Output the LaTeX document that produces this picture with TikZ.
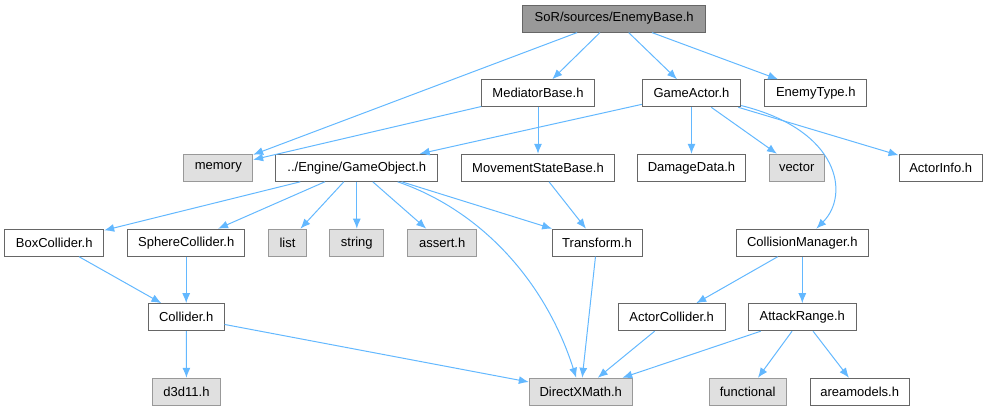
\documentclass[tikz,border=0pt]{standalone}
\usepackage{fontspec}
\setsansfont{Liberation Sans}
\usetikzlibrary{arrows.meta}
\definecolor{edgeblue}{HTML}{63B8FF}
\definecolor{boxline}{HTML}{666666}
\definecolor{sysfill}{HTML}{E0E0E0}
\definecolor{sysline}{HTML}{999999}
\definecolor{rootfill}{HTML}{999999}
\tikzset{
  hbox/.style ={draw=boxline,fill=white,line width=1pt,inner sep=0pt,
                minimum height=27pt,font=\sffamily\fontsize{13}{15}\selectfont},
  root/.style ={hbox,fill=rootfill},
  sys/.style  ={hbox,fill=sysfill,draw=sysline},
  inc/.style  ={-{Latex[length=10pt,width=8pt]},line width=1pt,draw=edgeblue},
}

\begin{document}
\begin{tikzpicture}[x=1pt,y=-1pt,font=\sffamily]
  \useasboundingbox (0,0) rectangle (988,411);

  % ---------- row 0: root ----------
  \node[root,minimum width=183pt] (eb) at (614.2,18.6) {SoR/sources/EnemyBase.h};

  % ---------- row 1 ----------
  \node[hbox,minimum width=112.6pt] (mb) at (538,93.3)   {MediatorBase.h};
  \node[hbox,minimum width=98.4pt]  (ga) at (691.5,93.3) {GameActor.h};
  \node[hbox,minimum width=101.7pt] (et) at (815.8,93.3) {EnemyType.h};

  % ---------- row 2 ----------
  \node[sys, minimum width=68.7pt]  (mem) at (218.3,167.8) {memory};
  \node[hbox,minimum width=161.7pt] (go)  at (356.8,167.8) {../Engine/GameObject.h};
  \node[hbox,minimum width=152.6pt] (msb) at (538,167.8)   {MovementStateBase.h};
  \node[hbox,minimum width=107.6pt] (dd)  at (691.5,167.8) {DamageData.h};
  \node[sys, minimum width=55.3pt]  (vec) at (796.7,167.8) {vector};
  \node[hbox,minimum width=83.3pt]  (ai)  at (940.7,167.8) {ActorInfo.h};

  % ---------- row 3 ----------
  \node[hbox,minimum width=99pt]    (bc)  at (54.2,242.7)  {BoxCollider.h};
  \node[hbox,minimum width=117pt]   (sc)  at (186.2,242.7) {SphereCollider.h};
  \node[sys, minimum width=38.4pt]  (lst) at (287.5,242.7) {list};
  \node[sys, minimum width=53.7pt]  (str) at (356.8,242.7) {string};
  \node[sys, minimum width=69pt]    (ast) at (442.2,242.7) {assert.h};
  \node[hbox,minimum width=90pt]    (tr)  at (597,242.7)   {Transform.h};
  \node[hbox,minimum width=132pt]   (cm)  at (802.3,242.7) {CollisionManager.h};

  % ---------- row 4 ----------
  \node[hbox,minimum width=75.7pt]  (col) at (186.2,317.2) {Collider.h};
  \node[hbox,minimum width=106.7pt] (ac)  at (671.7,317.2) {ActorCollider.h};
  \node[hbox,minimum width=108pt]   (ar)  at (802.3,317.2) {AttackRange.h};

  % ---------- row 5 ----------
  \node[sys, minimum width=67.6pt]  (d3d) at (186.5,391.8) {d3d11.h};
  \node[sys, minimum width=102.7pt] (dxm) at (580.7,391.8) {DirectXMath.h};
  \node[sys, minimum width=76.7pt]  (fn)  at (747.7,391.8) {functional};
  \node[hbox,minimum width=99.3pt]  (am)  at (859.7,391.8) {areamodels.h};

  % ---------- includes ----------
  \draw[inc] (eb) -- (mem);
  \draw[inc] (eb) -- (mb);
  \draw[inc] (eb) -- (ga);
  \draw[inc] (eb) -- (et);
  \draw[inc] (mb) -- (mem);
  \draw[inc] (mb) -- (msb);
  \draw[inc] (ga) -- (go);
  \draw[inc] (ga) -- (dd);
  \draw[inc] (ga) -- (vec);
  \draw[inc] (ga) -- (ai);
  \draw[inc] (ga) .. controls (840,130) and (850,195) .. (cm);
  \draw[inc] (go) -- (bc);
  \draw[inc] (go) -- (sc);
  \draw[inc] (go) -- (lst);
  \draw[inc] (go) -- (str);
  \draw[inc] (go) -- (ast);
  \draw[inc] (go) -- (tr);
  \draw[inc] (go) .. controls (480,210) and (545,280) .. (dxm);
  \draw[inc] (msb) -- (tr);
  \draw[inc] (bc) -- (col);
  \draw[inc] (sc) -- (col);
  \draw[inc] (col) -- (d3d);
  \draw[inc] (col) -- (dxm);
  \draw[inc] (tr) -- (dxm);
  \draw[inc] (cm) -- (ac);
  \draw[inc] (cm) -- (ar);
  \draw[inc] (ac) -- (dxm);
  \draw[inc] (ar) -- (dxm);
  \draw[inc] (ar) -- (fn);
  \draw[inc] (ar) -- (am);

\end{tikzpicture}
\end{document}
